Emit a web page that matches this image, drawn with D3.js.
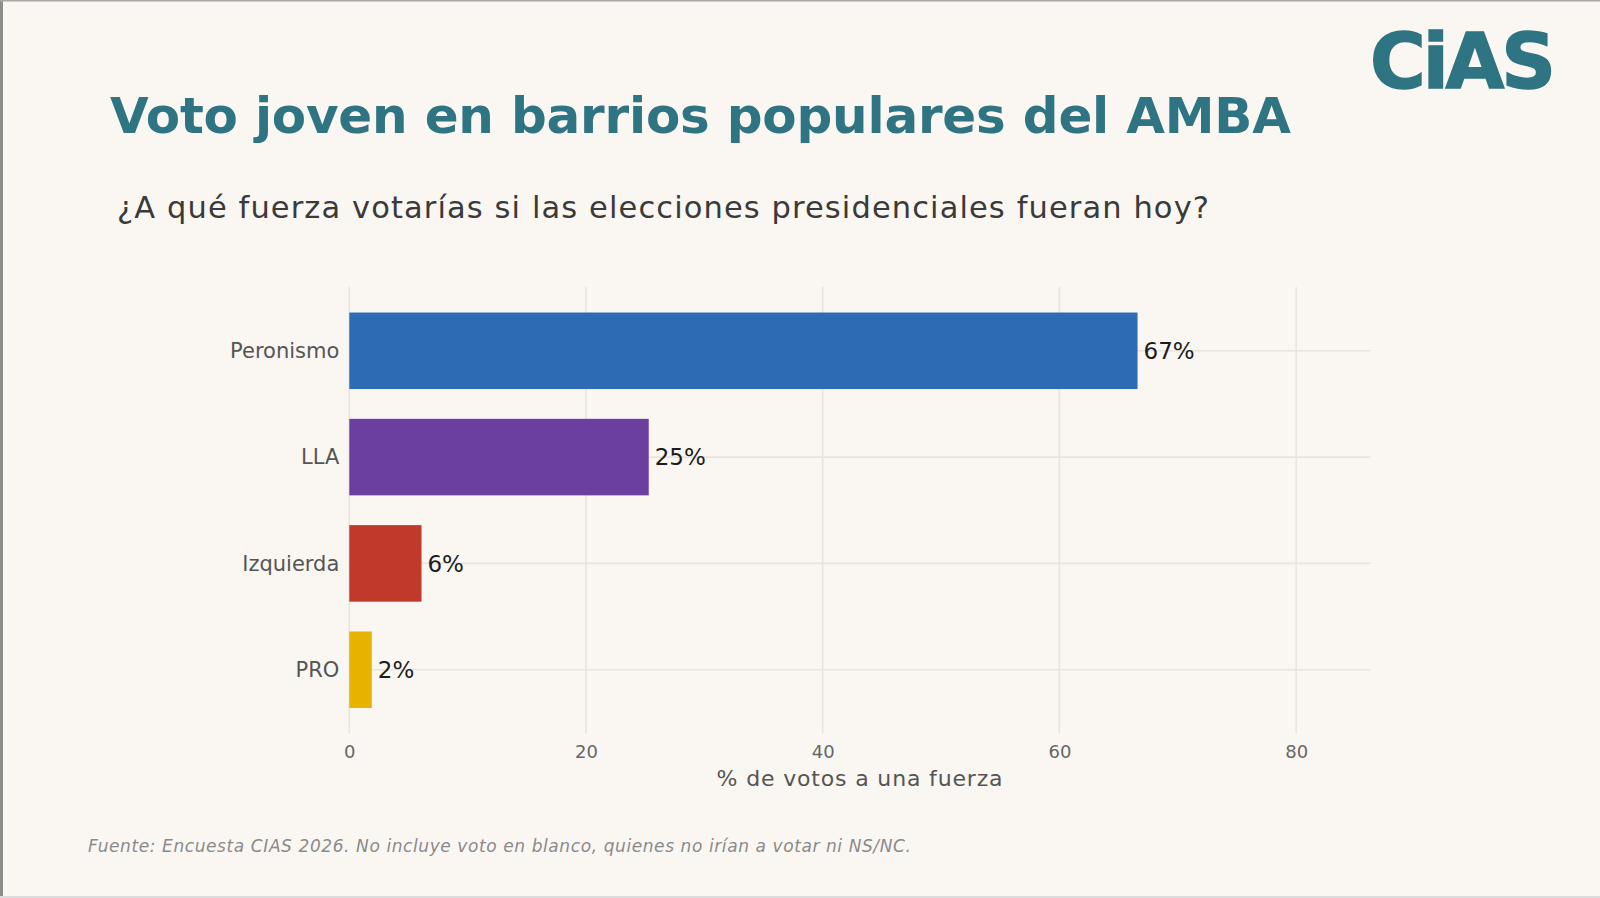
<!DOCTYPE html>
<html>
<head>
<meta charset="utf-8">
<script src="https://cdn.jsdelivr.net/npm/d3@7"></script>
<style>
    html, body { margin: 0; padding: 0; background: #faf7f2; }
    svg { display: block; }
</style>
</head>
<body>
<div id="chart"></div>
<script>
// Data
const categories = ["Peronismo", "LLA", "Izquierda", "PRO"];
const values = [66.6, 25.3, 6.1, 1.9];
const valueLabels = ["67%", "25%", "6%", "2%"];
const barColors = ["#2e6bb5", "#6b3fa0", "#c0392b", "#e6b400"];
const xTicks = [0, 20, 40, 60, 80];

const titleText = "Voto joven en barrios populares del AMBA";
const subtitleText = "¿A qué fuerza votarías si las elecciones presidenciales fueran hoy?";
const xAxisTitle = "% de votos a una fuerza";
const footerText = "Fuente: Encuesta CIAS 2026. No incluye voto en blanco, quienes no irían a votar ni NS/NC.";

let W = 1600, H = 898;
let font = "'DejaVu Sans', 'Open Sans', sans-serif";

let svg = d3.select("#chart").append("svg")
    .attr("width", W)
    .attr("height", H)
    .style("font-family", font);

svg.append("rect")
    .attr("width", W).attr("height", H)
    .attr("fill", "#faf7f2");

// frame of the screenshot
svg.append("rect").attr("x", 0).attr("y", 0).attr("width", 3).attr("height", H).attr("fill", "#8c8c8c");
svg.append("rect").attr("x", 0).attr("y", 0).attr("width", W).attr("height", 1.5).attr("fill", "#a8a8a8");
svg.append("rect").attr("x", 0).attr("y", H - 2).attr("width", W).attr("height", 2).attr("fill", "#dcdcdc");

// tweak letter spacing so a text hits a given width
function fitWidth(sel, target) {
    let n = sel.node();
    let w = n.getComputedTextLength();
    let chars = n.getNumberOfChars();
    sel.attr("letter-spacing", ((target - w) / Math.max(chars - 1, 1)).toFixed(2));
}

// Scales
let x = d3.scaleLinear()
    .domain([0, 86.3])
    .range([349.3, 1370.7]);

let y = d3.scalePoint()
    .domain(categories)
    .range([287, 733.5])
    .padding(0.6);

let barH = y.step() * 0.72;

// Grid
let grid = svg.append("g").attr("stroke", "#e8e5e1").attr("stroke-width", 1.6);

grid.selectAll(".vgrid")
    .data(xTicks)
    .enter().append("line")
    .attr("class", "vgrid")
    .attr("x1", d => x(d)).attr("x2", d => x(d))
    .attr("y1", y.range()[0]).attr("y2", y.range()[1]);

grid.selectAll(".hgrid")
    .data(categories)
    .enter().append("line")
    .attr("class", "hgrid")
    .attr("x1", x.range()[0]).attr("x2", x.range()[1])
    .attr("y1", d => y(d)).attr("y2", d => y(d));

// Bars
svg.selectAll(".bar")
    .data(categories)
    .enter().append("rect")
    .attr("class", "bar")
    .attr("x", x(0))
    .attr("y", d => y(d) - barH / 2)
    .attr("width", (d, i) => x(values[i]) - x(0))
    .attr("height", barH)
    .attr("fill", (d, i) => barColors[i]);

// Value labels
svg.selectAll(".vlabel")
    .data(categories)
    .enter().append("text")
    .attr("class", "vlabel")
    .attr("x", (d, i) => x(values[i]) + 6)
    .attr("y", d => y(d))
    .attr("dy", "0.36em")
    .attr("font-size", 23)
    .attr("fill", "#1c1c1c")
    .text((d, i) => valueLabels[i]);

// Y axis (category labels)
let yAxis = d3.axisLeft(y).tickSize(0).tickPadding(10);
let yg = svg.append("g")
    .attr("transform", "translate(" + x(0) + ",0)")
    .call(yAxis);
yg.select(".domain").remove();
yg.selectAll("text")
    .attr("font-size", 21)
    .attr("font-family", font)
    .attr("fill", "#555");

// X axis
let xAxis = d3.axisBottom(x).tickValues(xTicks).tickSize(0).tickPadding(12);
let xg = svg.append("g")
    .attr("transform", "translate(0," + y.range()[1] + ")")
    .call(xAxis);
xg.select(".domain").remove();
xg.selectAll("text")
    .attr("font-size", 18)
    .attr("font-family", font)
    .attr("fill", "#666");

let xt = svg.append("text")
    .attr("x", (x.range()[0] + x.range()[1]) / 2)
    .attr("y", 786)
    .attr("text-anchor", "middle")
    .attr("font-size", 22)
    .attr("fill", "#555")
    .text(xAxisTitle);
fitWidth(xt, 286);

// Titles
let title = svg.append("text")
    .attr("x", 110)
    .attr("y", 133)
    .attr("font-size", 50)
    .attr("font-weight", 700)
    .attr("fill", "#2e7482")
    .text(titleText);
fitWidth(title, 1181);

let subtitle = svg.append("text")
    .attr("x", 117)
    .attr("y", 218)
    .attr("font-size", 30.5)
    .attr("fill", "#3a3a3a")
    .text(subtitleText);
fitWidth(subtitle, 1092);

// Logo
let logo = svg.append("text")
    .attr("x", 1370)
    .attr("y", 88)
    .attr("font-size", 76)
    .attr("font-weight", 700)
    .attr("fill", "#2e7482")
    .attr("stroke", "#2e7482")
    .attr("stroke-width", 1.5)
    .text("CiAS");
fitWidth(logo, 186);

// Footer
let footer = svg.append("text")
    .attr("x", 88)
    .attr("y", 852)
    .attr("font-size", 17)
    .attr("font-style", "italic")
    .attr("fill", "#8a8a8a")
    .text(footerText);
fitWidth(footer, 823);
</script>
</body>
</html>
